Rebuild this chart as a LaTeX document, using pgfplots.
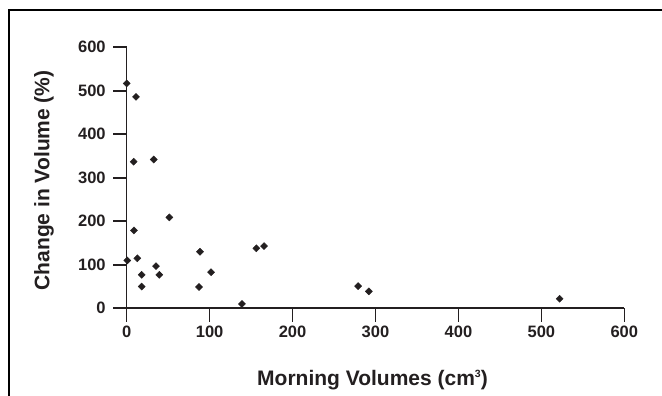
\documentclass[border=0pt]{standalone}
\usepackage{fontspec}
\setmainfont{Liberation Sans}
\usepackage{pgfplots}
\pgfplotsset{compat=1.18}
\definecolor{ax}{HTML}{231F20}
\begin{document}
\begin{tikzpicture}[x=1pt,y=1pt]
\useasboundingbox (0,0) rectangle (662,396);
\clip (0,0) rectangle (662,396);
\draw[line width=2pt] (9,-20) -- (9,386) -- (700,386);
\begin{axis}[
 scale only axis, width=497.6pt, height=261pt,
 at={(126.7pt,87.7pt)}, anchor=south west,
 xmin=0,xmax=600,ymin=0,ymax=600,
 axis lines=left, axis line style={line width=1.6pt, color=ax, -},
 tick align=outside, major tick length=13.5pt,
 tick style={line width=1.6pt, color=ax},
 xtick={0,100,...,600}, ytick={0,100,...,600},
 ticklabel style={font=\fontsize{16.5}{18}\selectfont\bfseries, color=ax},
 xticklabel style={yshift=-1pt},
 yticklabel style={xshift=-4pt},
 /pgf/number format/assume math mode=true,
 xlabel={Morning Volumes (cm\raisebox{7.5pt}{\fontsize{10.5}{11}\selectfont 3})},
 ylabel={Change in Volume (\%)},
 label style={font=\fontsize{21}{24}\selectfont\bfseries, color=ax},
 xlabel style={at={(axis description cs:0.494,-0.294)}, anchor=base},
 ylabel style={at={(axis description cs:-0.166,0.49)}, anchor=center, rotate=0},
 clip=false,
]
\addplot[only marks, mark=square*, mark size=2.5pt, mark options={rotate=45, fill=ax, draw=ax}, color=ax] coordinates {
(0,517) (11.2,486) (8.4,337) (32.6,342) (8.8,179) (51.4,209) (0.7,110) (12.8,115)
(18.1,77) (18.1,50) (35.3,97) (39.3,77) (88.4,130) (87.2,49) (101.7,83) (139,10)
(156.3,138) (165.6,143) (279,51) (292,39) (522,22)
};
\end{axis}
\end{tikzpicture}
\end{document}
